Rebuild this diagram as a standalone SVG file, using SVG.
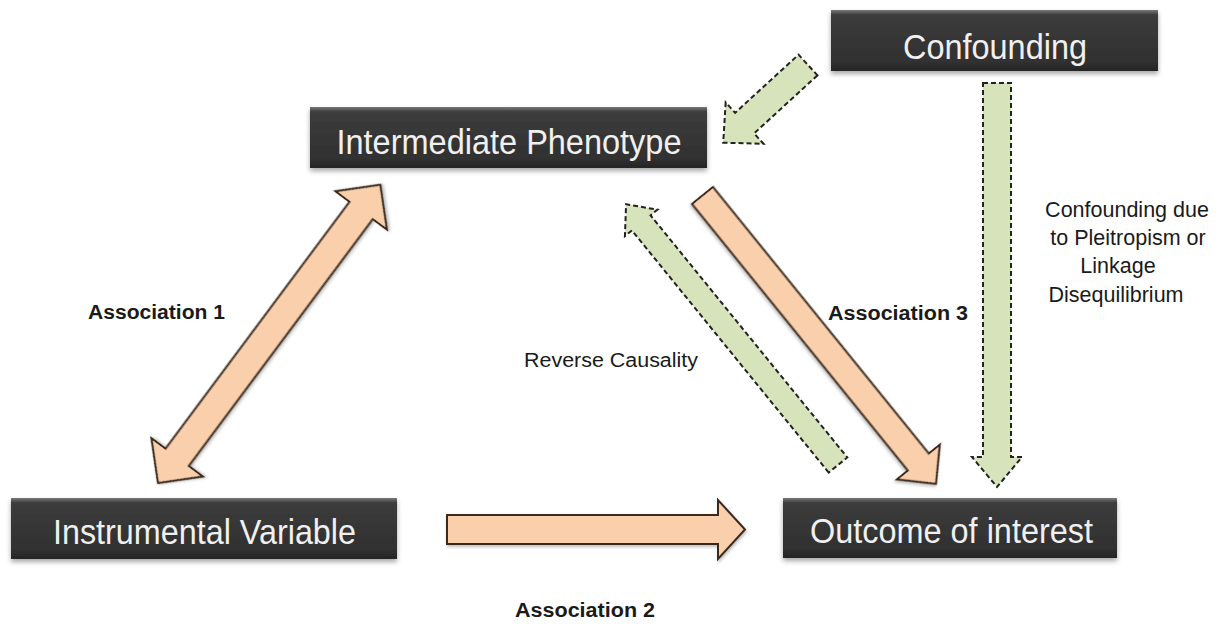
<svg xmlns="http://www.w3.org/2000/svg" width="1220" height="624" viewBox="0 0 1220 624">
<defs>
  <linearGradient id="nodeGrad" x1="0" y1="0" x2="0" y2="1">
    <stop offset="0" stop-color="#7a7a7a"/>
    <stop offset="0.08" stop-color="#3c3c3c"/>
    <stop offset="0.85" stop-color="#303030"/>
    <stop offset="1" stop-color="#252525"/>
  </linearGradient>
  <filter id="shadow" x="-10%" y="-20%" width="120%" height="150%">
    <feDropShadow dx="0" dy="3" stdDeviation="2.5" flood-color="#000" flood-opacity="0.35"/>
  </filter>
  <filter id="ashadow" x="-10%" y="-10%" width="120%" height="120%">
    <feDropShadow dx="1" dy="2" stdDeviation="1.5" flood-color="#000" flood-opacity="0.25"/>
  </filter>
</defs>
<style>
  .node rect { fill: url(#nodeGrad); filter: url(#shadow); }
  .node text { font-family: "Liberation Sans", Arial, sans-serif; font-size: 35px; fill: #f0f0f0; text-anchor: middle; }
  .assoc { fill: #f9cfac; stroke: #3a2a1e; stroke-width: 2; stroke-linejoin: miter; filter: url(#ashadow); }
  .conf { fill: #d7e3bb; stroke: #222; stroke-width: 2; stroke-dasharray: 5 3; stroke-linejoin: miter; }
  .lbl { font-family: "Liberation Sans", Arial, sans-serif; font-size: 20px; fill: #1a1a1a; }
  .bold { font-weight: bold; }
  .side { font-size: 21.5px; }
</style>
<rect width="1220" height="624" fill="#ffffff"/>

<g id="connectors">
  <!-- Association 1 (double-headed) -->
  <g id="assoc1" transform="translate(158,483) rotate(-53.3)">
    <polygon class="assoc" points="0,0 32,-32 32,-14.5 340,-14.5 340,-32 372,0 340,32 340,14.5 32,14.5 32,32"/>
  </g>
  <!-- Association 2 -->
  <polygon id="assoc2" class="assoc" points="447,515 718,515 718,500 745,529.5 718,559 718,544 447,544"/>
  <!-- Association 3 -->
  <g id="assoc3" transform="translate(702.5,195.5) rotate(51)">
    <polygon class="assoc" points="0,-13.5 343,-13.5 343,-27.5 371,0 343,27.5 343,13.5 0,13.5"/>
  </g>
  <!-- Reverse causality -->
  <g id="reverse" transform="translate(838,465) rotate(-129.1)">
    <polygon class="conf" points="0,-12 312,-12 312,-21 336,0 312,21 312,12 0,12"/>
  </g>
  <!-- Confounding to Intermediate Phenotype -->
  <g id="conf-ip" transform="translate(808,65) rotate(137.5)">
    <polygon class="conf" points="0,-14 86,-14 86,-28 115,0 86,28 86,14 0,14"/>
  </g>
  <!-- Confounding to Outcome -->
  <polygon id="conf-out" class="conf" points="983,83 1011,83 1011,457 1022,457 997,487 972,457 983,457"/>
</g>

<g id="node-intermediate" class="node">
  <rect x="310" y="107" width="397" height="61"/>
  <text x="509" y="154" textLength="345" lengthAdjust="spacingAndGlyphs">Intermediate Phenotype</text>
</g>
<g id="node-confounding" class="node">
  <rect x="831" y="10" width="327" height="61"/>
  <text x="995" y="59" textLength="184" lengthAdjust="spacingAndGlyphs">Confounding</text>
</g>
<g id="node-instrumental" class="node">
  <rect x="11" y="498" width="386" height="61"/>
  <text x="204.5" y="544" textLength="303" lengthAdjust="spacingAndGlyphs">Instrumental Variable</text>
</g>
<g id="node-outcome" class="node">
  <rect x="783" y="498" width="334" height="60"/>
  <text x="951.5" y="543" textLength="283" lengthAdjust="spacingAndGlyphs">Outcome of interest</text>
</g>

<g id="labels">
  <text class="lbl bold" x="88" y="319" textLength="137" lengthAdjust="spacingAndGlyphs">Association 1</text>
  <text class="lbl bold" x="828" y="320" textLength="140" lengthAdjust="spacingAndGlyphs">Association 3</text>
  <text class="lbl bold" x="515" y="617" textLength="140" lengthAdjust="spacingAndGlyphs">Association 2</text>
  <text class="lbl" x="524" y="367" textLength="174" lengthAdjust="spacingAndGlyphs">Reverse Causality</text>
  <g class="lbl side" text-anchor="middle">
    <text x="1127" y="217">Confounding due</text>
    <text x="1128" y="245">to Pleitropism or</text>
    <text x="1118" y="273">Linkage</text>
    <text x="1116" y="302">Disequilibrium</text>
  </g>
</g>
</svg>
